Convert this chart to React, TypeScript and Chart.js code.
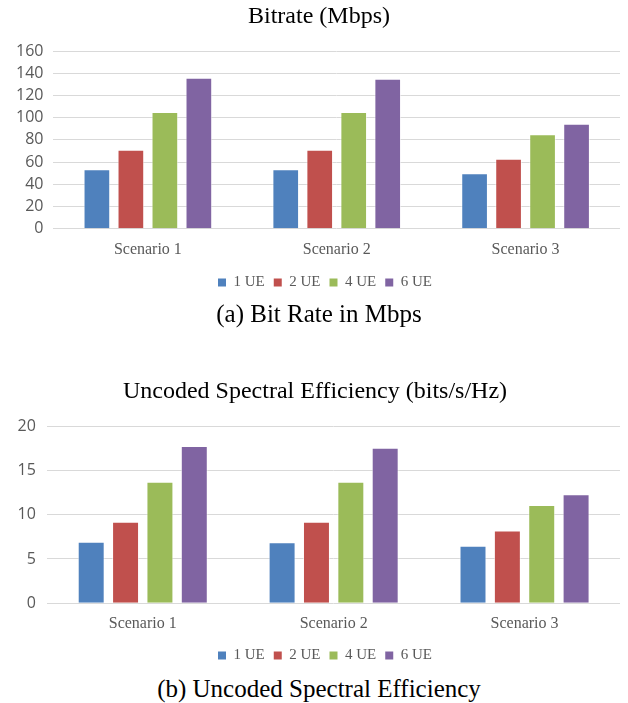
import React, { useEffect, useRef } from 'react';
import { Chart, registerables } from 'chart.js';

Chart.register(...registerables);

const categories = ['Scenario 1', 'Scenario 2', 'Scenario 3'];
const seriesNames = ['1 UE', '2 UE', '4 UE', '6 UE'];
const seriesColors = ['#4F81BD', '#C0504D', '#9BBB59', '#8064A2'];

const bitrate1UE = [53.5, 53.5, 50];
const bitrate2UE = [71, 71, 63];
const bitrate4UE = [105, 105, 85];
const bitrate6UE = [136, 135, 94.5];

const se1UE = [6.95, 6.9, 6.5];
const se2UE = [9.2, 9.2, 8.2];
const se4UE = [13.7, 13.7, 11.1];
const se6UE = [17.75, 17.55, 12.3];

const bitrateTicks = { max: 160, step: 20 };
const seTicks = { max: 20, step: 5 };

const SERIF = "'Liberation Serif', 'Times New Roman', serif";
const SANS = "'Open Sans', 'DejaVu Sans', sans-serif";
const GRAY = '#595959';

type PanelProps = {
  title: string;
  series: number[][];
  max: number;
  step: number;
  top: number;
  height: number;
  titlePadTop: number;
  titlePadBottom: number;
  xHeight: number;
  leftPad: number;
  yPad: number;
  titleShift: number;
  legendShift: number;
};

function Panel(p: PanelProps) {
  const ref = useRef<HTMLCanvasElement | null>(null);
  useEffect(() => {
    if (!ref.current) return;
    const shiftPlugin = {
      id: 'shiftBoxes',
      afterLayout(chart: any) {
        if (chart.legend) {
          chart.legend.left += p.legendShift;
          chart.legend.right += p.legendShift;
        }
        if (chart.titleBlock) {
          chart.titleBlock.left += p.titleShift;
          chart.titleBlock.right += p.titleShift;
        }
      },
    };
    const chart = new Chart(ref.current, {
      type: 'bar',
      data: {
        labels: categories,
        datasets: p.series.map((vals, i) => ({
          label: seriesNames[i],
          data: vals,
          backgroundColor: seriesColors[i],
          borderColor: 'rgba(255,255,255,0.55)',
          borderWidth: 1,
          categoryPercentage: 0.72,
          barPercentage: 0.785,
        })),
      },
      plugins: [shiftPlugin],
      options: {
        responsive: false,
        animation: false,
        devicePixelRatio: 1,
        layout: { padding: { left: p.leftPad, right: 8, top: 0, bottom: 0 } },
        plugins: {
          title: {
            display: true,
            text: p.title,
            color: '#000',
            font: { family: SERIF, size: 24, weight: 'normal' },
            padding: { top: p.titlePadTop, bottom: p.titlePadBottom },
          },
          legend: {
            position: 'bottom',
            labels: {
              boxWidth: 8,
              boxHeight: 8,
              padding: 9,
              color: GRAY,
              font: { family: SERIF, size: 15 },
              generateLabels: (c: any) =>
                Chart.defaults.plugins.legend.labels.generateLabels(c).map((l: any) => ({
                  ...l,
                  strokeStyle: l.fillStyle,
                  lineWidth: 0,
                })),
            },
          },
          tooltip: { enabled: false },
        },
        scales: {
          x: {
            grid: { display: false, drawTicks: false },
            border: { display: false },
            ticks: { color: GRAY, font: { family: SERIF, size: 16 }, padding: 11 },
            afterFit: (s: any) => {
              s.height = p.xHeight;
            },
          },
          y: {
            min: 0,
            max: p.max,
            ticks: { stepSize: p.step, color: GRAY, font: { family: SANS, size: 16 }, padding: p.yPad },
            grid: { color: '#D9D9D9', drawTicks: false, lineWidth: 1 },
            border: { display: false },
          },
        },
      } as any,
    });
    return () => chart.destroy();
  }, []);
  return (
    <canvas
      ref={ref}
      width={628}
      height={p.height}
      style={{ position: 'absolute', left: 0, top: p.top, width: 628, height: p.height }}
    />
  );
}

const captionStyle = (top: number): React.CSSProperties => ({
  position: 'absolute',
  left: 5,
  width: 628,
  top,
  height: 30,
  lineHeight: '30px',
  textAlign: 'center',
  fontFamily: SERIF,
  fontSize: 25,
  color: '#000',
});

export default function App() {
  return (
    <div style={{ position: 'absolute', left: 0, top: 0, width: 628, height: 703, background: '#fff', overflow: 'hidden' }}>
      <Panel
        title="Bitrate (Mbps)"
        series={[bitrate1UE, bitrate2UE, bitrate4UE, bitrate6UE]}
        max={bitrateTicks.max}
        step={bitrateTicks.step}
        top={0}
        height={300}
        titlePadTop={2.6}
        titlePadBottom={19.6}
        xHeight={37.3}
        leftPad={6}
        yPad={10}
        titleShift={6}
        legendShift={12}
      />
      <div style={captionStyle(299)}>(a) Bit Rate in Mbps</div>
      <Panel
        title="Uncoded Spectral Efficiency (bits/s/Hz)"
        series={[se1UE, se2UE, se4UE, se6UE]}
        max={seTicks.max}
        step={seTicks.step}
        top={366}
        height={307}
        titlePadTop={11.3}
        titlePadBottom={19.9}
        xHeight={35.7}
        leftPad={6}
        yPad={11.5}
        titleShift={2}
        legendShift={12}
      />
      <div style={captionStyle(674)}>(b) Uncoded Spectral Efficiency</div>
    </div>
  );
}
